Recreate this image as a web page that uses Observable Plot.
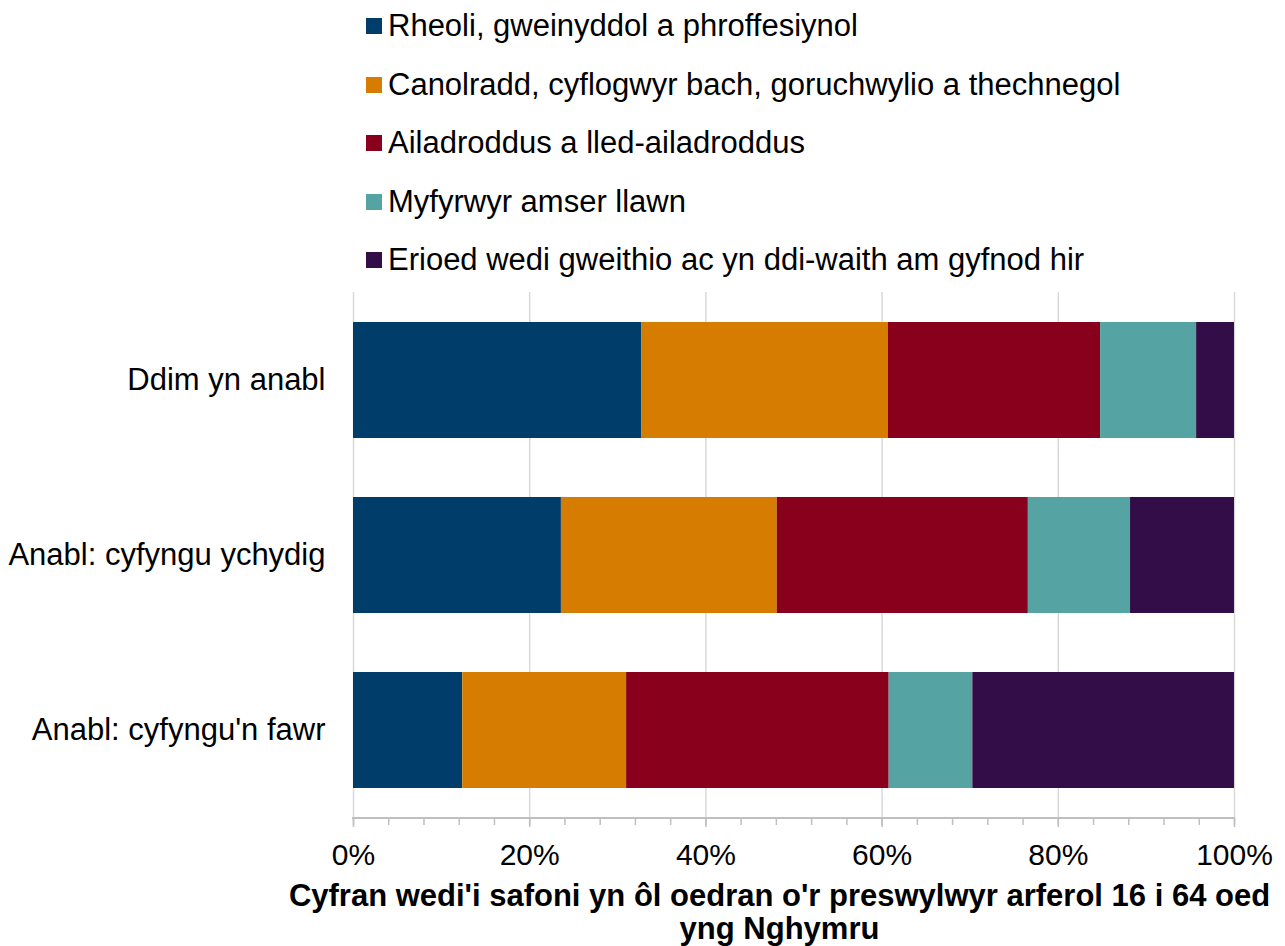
<!DOCTYPE html>
<html>
<head>
<meta charset="utf-8">
<script src="https://cdn.jsdelivr.net/npm/d3@7"></script>
<script src="https://cdn.jsdelivr.net/npm/@observablehq/plot@0.6"></script>
<style>
  html, body { margin: 0; padding: 0; background: #fff; }
  body { width: 1285px; height: 946px; position: relative; overflow: hidden;
         font-family: "Liberation Sans", Arial, sans-serif; color: #000; }
  #legend { position: relative; height: 290px; width: 1285px; }
  .item { position: absolute; left: 366px; height: 58.5px; line-height: 58.5px;
          display: flex; align-items: center; font-size: 31px; white-space: nowrap; }
  .sw { width: 16px; height: 16px; margin-right: 6px; flex: none; }
  #chart svg { display: block; }
</style>
</head>
<body>
<div id="legend"></div>
<div id="chart"></div>
<script>
const groups = ["Ddim yn anabl", "Anabl: cyfyngu ychydig", "Anabl: cyfyngu'n fawr"];
const categories = [
  "Rheoli, gweinyddol a phroffesiynol",
  "Canolradd, cyflogwyr bach, goruchwylio a thechnegol",
  "Ailadroddus a lled-ailadroddus",
  "Myfyrwyr amser llawn",
  "Erioed wedi gweithio ac yn ddi-waith am gyfnod hir"
];
const colors = ["#003d6b", "#d67c00", "#88001c", "#56a3a3", "#320d47"];
const valuesDdim = [32.7, 28.0, 24.1, 10.9, 4.3];
const valuesYchydig = [23.6, 24.5, 28.5, 11.6, 11.8];
const valuesFawr = [12.4, 18.6, 29.8, 9.5, 29.7];
const xTicks = [0, 20, 40, 60, 80, 100];
const xMinorTicks = d3.range(0, 101, 4);
const xTitle = "Cyfran wedi'i safoni yn ôl oedran o'r preswylwyr arferol 16 i 64 oed\nyng Nghymru";

const seriesByGroup = [valuesDdim, valuesYchydig, valuesFawr];
const data = [];
groups.forEach((g, gi) => {
  categories.forEach((c, ci) => data.push({group: g, category: c, value: seriesByGroup[gi][ci]}));
});

// legend
const legend = document.getElementById("legend");
categories.forEach((c, i) => {
  const row = document.createElement("div");
  row.className = "item";
  row.style.top = (-3 + 58.5 * i) + "px";
  const sw = document.createElement("span");
  sw.className = "sw";
  sw.style.background = colors[i];
  const t = document.createElement("span");
  t.textContent = c;
  row.appendChild(sw);
  row.appendChild(t);
  legend.appendChild(row);
});

const axisLine = (index, scales, values, dims) => {
  const y = dims.height - dims.marginBottom;
  return d3.create("svg:line")
    .attr("x1", scales.x(0) - 1).attr("x2", scales.x(100) + 1)
    .attr("y1", y).attr("y2", y)
    .attr("stroke", "#bfbfbf").attr("stroke-width", 2)
    .node();
};

const chart = Plot.plot({
  width: 1285,
  height: 656,
  marginLeft: 353,
  marginRight: 51,
  marginTop: 2,
  marginBottom: 128,
  style: {fontFamily: "Liberation Sans, Arial, sans-serif", fontSize: "30px", color: "#000", background: "#fff"},
  x: {domain: [0, 100], label: null},
  y: {domain: groups, paddingInner: 0.337, paddingOuter: 0.17, label: null},
  color: {domain: categories, range: colors},
  marks: [
    Plot.ruleX(xTicks, {stroke: "#d9d9d9", strokeWidth: 1.5}),
    Plot.barX(data, {x: "value", y: "group", fill: "category", order: categories, inset: 0}),
    axisLine,
    Plot.axisX({ticks: xMinorTicks, tickSize: 7, tickFormat: () => "", stroke: "#bfbfbf", strokeWidth: 1.5, label: null}),
    Plot.axisX({ticks: xTicks, tickSize: 9, tickPadding: 16, tickFormat: d => d + "%", fontSize: 30, stroke: "#bfbfbf", strokeWidth: 1.5, label: null}),
    Plot.axisY({tickSize: 0, tickPadding: 28, fontSize: 31, label: null}),
    Plot.text([xTitle], {frameAnchor: "bottom", lineAnchor: "top", dy: 64, dx: -14.5, text: d => d,
      fontSize: 31, fontWeight: "bold", lineHeight: 1.07, fill: "#000"})
  ]
});
document.getElementById("chart").appendChild(chart);
</script>
</body>
</html>
